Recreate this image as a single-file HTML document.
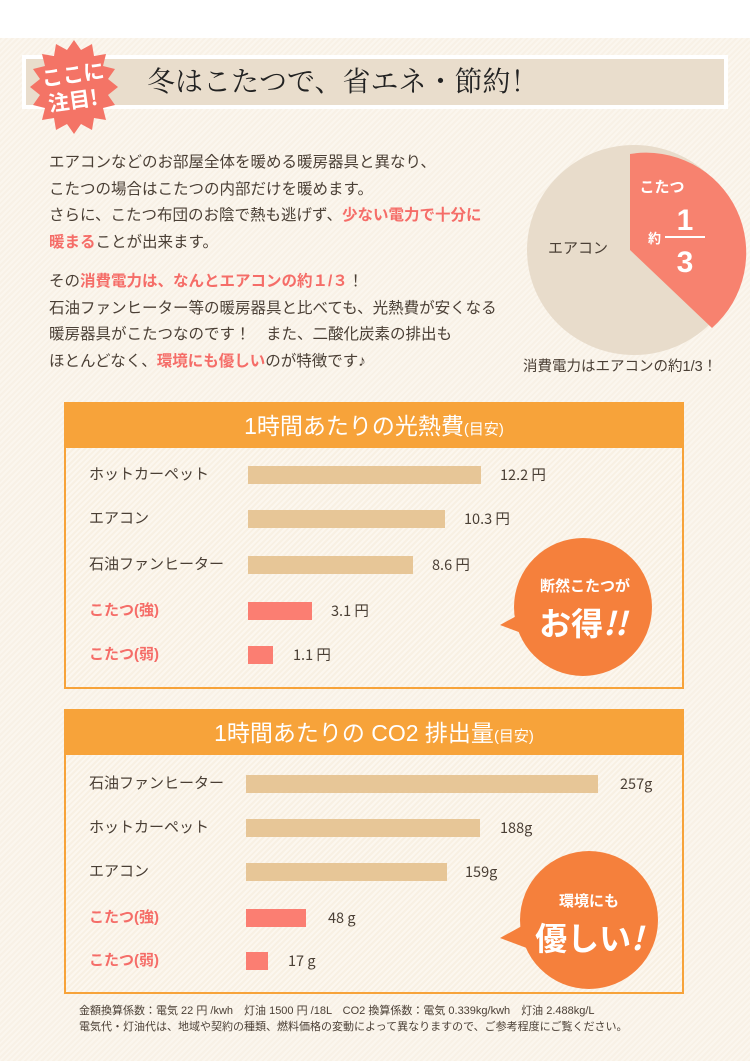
<!DOCTYPE html>
<html><head><meta charset="utf-8"><style>
*{margin:0;padding:0;box-sizing:border-box}
body{width:750px;height:1061px;position:relative;overflow:hidden;background:#fff;font-family:"Liberation Sans","Noto Sans CJK JP",sans-serif;color:#4a3f35}
.bg{position:absolute;left:0;top:38px;width:750px;height:1023px;background:repeating-linear-gradient(135deg,#f8f1e6 0 2px,#fbf6ee 2px 4px)}
.a{position:absolute;white-space:nowrap}
.t{font-size:15.5px;line-height:26.5px}
.r{color:#f56d68;font-weight:bold}
.box{position:absolute;left:64px;width:620px;border:2px solid #f7a33a;background:repeating-linear-gradient(135deg,#f8f0e3 0 2px,#fcf7ef 2px 4px)}
.hd{background:#f7a33a;color:#fff;text-align:center;font-size:23px;height:44px;line-height:44px}
.hd small{font-size:15px}
.bar{position:absolute;height:18px;background:#e7c697}
.bar.k{background:#fb7e72}
.lb{position:absolute;font-size:15px;line-height:20px;color:#4a3f35}
.lb.k{color:#f56d68;font-weight:bold}
.v{position:absolute;font-size:14.5px;line-height:20px;color:#4a3f35;font-family:"Noto Sans CJK JP",sans-serif}
</style></head><body>
<div class="bg"></div>
<div class="a" style="left:22px;top:55px;width:706px;height:54px;background:#fff;"></div>
<div class="a" style="left:26px;top:59px;width:698px;height:46px;background:#e9ddcc;"></div>
<div class="a" style="left:147px;top:60px;font-size:28px;color:#222;font-family:'Liberation Serif','Noto Serif CJK SC',serif;">冬はこたつで、省エネ・節約！</div>
<svg class="a" style="left:26px;top:38px" width="96" height="100" viewBox="0 0 96 100">
<polygon fill="#f47466" points="48,2 55,12 66,6 68,18 80,16 77,28 89,31 82,41 92,49 82,57 89,67 77,70 80,82 68,80 66,92 55,86 48,96 41,86 30,92 28,80 16,82 19,70 7,67 14,57 4,49 14,41 7,31 19,28 16,16 28,18 30,6 41,12"/>
<text x="48" y="44" fill="#fff" font-size="21" font-weight="bold" text-anchor="middle" font-family="Noto Sans CJK JP" transform="rotate(-8 48 44)">ここに</text>
<text x="48" y="70" fill="#fff" font-size="21" font-weight="bold" text-anchor="middle" font-family="Noto Sans CJK JP" transform="rotate(-8 48 70)">注目!</text>
</svg>
<div class="a t" style="left:49px;top:150px">エアコンなどのお部屋全体を暖める暖房器具と異なり、<br>こたつの場合はこたつの内部だけを暖めます。<br>さらに、こたつ布団のお陰で熱も逃げず、<span class="r">少ない電力で十分に<br>暖まる</span>ことが出来ます。</div>
<div class="a t" style="left:49px;top:269px">その<span class="r">消費電力は、なんとエアコンの約１/３</span>！<br>石油ファンヒーター等の暖房器具と比べても、光熱費が安くなる<br>暖房器具がこたつなのです！　また、二酸化炭素の排出も<br>ほとんどなく、<span class="r">環境にも優しい</span>のが特徴です♪</div>
<svg class="a" style="left:520px;top:140px" width="230" height="220">
<ellipse cx="114" cy="110" rx="107" ry="105" fill="#e8dccb"/>
<path d="M110 110 L110 14 A100 100 0 0 1 192 188 Z" fill="#f7826f"/>
<text x="58" y="113" font-size="15" fill="#4a3f35" font-family="Noto Sans CJK JP" text-anchor="middle">エアコン</text>
<text x="142" y="52" font-size="15" fill="#fff" font-weight="bold" font-family="Noto Sans CJK JP" text-anchor="middle">こたつ</text>
<text x="128" y="103" font-size="13" fill="#fff" font-weight="bold" font-family="Noto Sans CJK JP">約</text>
<text x="165" y="90" font-size="30" fill="#fff" font-weight="bold" text-anchor="middle">1</text>
<rect x="145" y="96" width="40" height="2" fill="#fff"/>
<text x="165" y="132" font-size="30" fill="#fff" font-weight="bold" text-anchor="middle">3</text>
</svg>
<div class="a" style="left:523px;top:355px;font-size:14.5px">消費電力はエアコンの約1/3！</div>

<div class="box" style="top:402px;height:287px"><div class="hd">1時間あたりの光熱費<small>(目安)</small></div></div>
<div class="lb" style="left:89px;top:465px">ホットカーペット</div><div class="bar" style="left:248px;top:466px;width:233px"></div><div class="v" style="left:500px;top:465px">12.2 円</div>
<div class="lb" style="left:89px;top:509px">エアコン</div><div class="bar" style="left:248px;top:510px;width:197px"></div><div class="v" style="left:464px;top:509px">10.3 円</div>
<div class="lb" style="left:89px;top:555px">石油ファンヒーター</div><div class="bar" style="left:248px;top:556px;width:165px"></div><div class="v" style="left:432px;top:555px">8.6 円</div>
<div class="lb k" style="left:89px;top:601px">こたつ(強)</div><div class="bar k" style="left:248px;top:602px;width:64px"></div><div class="v" style="left:331px;top:601px">3.1 円</div>
<div class="lb k" style="left:89px;top:645px">こたつ(弱)</div><div class="bar k" style="left:248px;top:646px;width:25px"></div><div class="v" style="left:293px;top:645px">1.1 円</div>
<svg class="a" style="left:490px;top:535px" width="170" height="150"><path d="M10 90 L50 68 L50 105 Z" fill="#f5803c"/><circle cx="93" cy="72" r="69" fill="#f5803c"/>
<text x="95" y="56" fill="#fff" font-size="15" font-weight="bold" text-anchor="middle" font-family="Noto Sans CJK JP">断然こたつが</text>
<text x="93" y="100" fill="#fff" font-size="32" font-weight="bold" text-anchor="middle" font-family="Noto Sans CJK JP">お得<tspan font-style="italic">!!</tspan></text></svg>

<div class="box" style="top:709px;height:285px"><div class="hd">1時間あたりの CO2 排出量<small>(目安)</small></div></div>
<div class="lb" style="left:89px;top:774px">石油ファンヒーター</div><div class="bar" style="left:246px;top:775px;width:352px"></div><div class="v" style="left:620px;top:774px">257g</div>
<div class="lb" style="left:89px;top:818px">ホットカーペット</div><div class="bar" style="left:246px;top:819px;width:234px"></div><div class="v" style="left:500px;top:818px">188g</div>
<div class="lb" style="left:89px;top:862px">エアコン</div><div class="bar" style="left:246px;top:863px;width:201px"></div><div class="v" style="left:465px;top:862px">159g</div>
<div class="lb k" style="left:89px;top:908px">こたつ(強)</div><div class="bar k" style="left:246px;top:909px;width:60px"></div><div class="v" style="left:328px;top:908px">48 g</div>
<div class="lb k" style="left:89px;top:951px">こたつ(弱)</div><div class="bar k" style="left:246px;top:952px;width:22px"></div><div class="v" style="left:288px;top:951px">17 g</div>
<svg class="a" style="left:490px;top:848px" width="170" height="150"><path d="M10 90 L50 68 L50 105 Z" fill="#f5803c"/><circle cx="99" cy="72" r="69" fill="#f5803c"/>
<text x="99" y="58" fill="#fff" font-size="15" font-weight="bold" text-anchor="middle" font-family="Noto Sans CJK JP">環境にも</text>
<text x="99" y="102" fill="#fff" font-size="32" font-weight="bold" text-anchor="middle" font-family="Noto Sans CJK JP">優しい<tspan font-style="italic">!</tspan></text></svg>

<div class="a" style="left:79px;top:1003px;font-size:11px;line-height:16px">金額換算係数：電気 22 円 /kwh　灯油 1500 円 /18L　CO2 換算係数：電気 0.339kg/kwh　灯油 2.488kg/L<br>電気代・灯油代は、地域や契約の種類、燃料価格の変動によって異なりますので、ご参考程度にご覧ください。</div>
</body></html>
